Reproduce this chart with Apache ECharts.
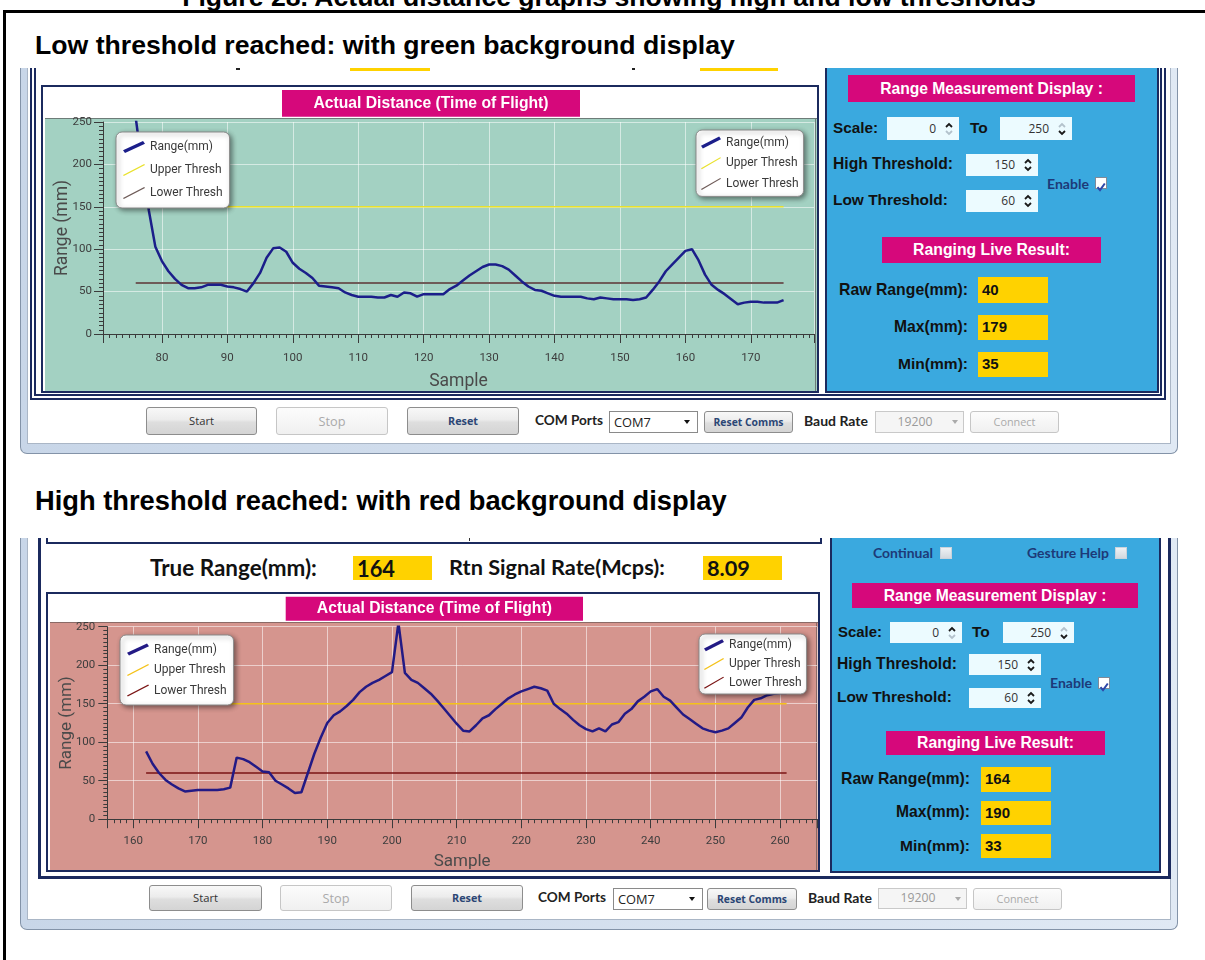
<!DOCTYPE html>
<html><head><meta charset="utf-8">
<script src="https://cdn.jsdelivr.net/npm/echarts@6/dist/echarts.min.js"></script>
<style>
html,body{margin:0;padding:0;background:#fff;width:1205px;height:960px;overflow:hidden;position:relative}
.a{position:absolute;box-sizing:border-box}
.t{position:absolute;white-space:nowrap;line-height:1}
</style></head><body>
<script>
// ---------------- DATA ----------------
const captionText = 'Figure 28. Actual distance graphs showing high and low thresholds';
const lowHeader = 'Low threshold reached: with green background display';
const highHeader = 'High threshold reached: with red background display';
const chartTitle = 'Actual Distance (Time of Flight)';
const seriesNames = ['Range(mm)', 'Upper Thresh', 'Lower Thresh'];
const xAxisName = 'Sample';
const yAxisName = 'Range (mm)';
const upperThreshold = 150;
const lowerThreshold = 60;
const yMin = 0, yMax = 250, yStep = 50;

// Low threshold capture (green): samples 76..175
const lowSampleStart = 76;
const lowRange = [255,197,146,103,86,74,65,58,54,54,
                  55,58,58,58,56,55,53,50,60,72,
                  90,101,102,97,84,77,72,66,57,56,
                  55,54,49,46,44,44,44,43,43,46,
                  44,49,48,44,47,47,47,47,53,57,
                  63,69,74,79,82,82,80,76,69,62,
                  56,52,51,48,45,44,44,44,44,42,
                  41,43,42,41,41,41,40,41,43,52,
                  62,74,82,90,98,100,87,70,58,52,
                  47,41,35,37,38,38,37,37,37,40];
const lowPanel = {scaleFrom:'0', scaleTo:'250', high:'150', low:'60', raw:'40', max:'179', min:'35'};

// High threshold capture (red): samples 162..261
const highSampleStart = 162;
const highRange = [88,72,60,51,45,40,36,37,38,38,
                   38,38,39,41,80,78,74,68,62,61,
                   50,45,40,34,35,60,85,106,125,135,
                   140,147,155,165,172,177,181,186,191,255,
                   190,181,177,170,163,154,144,134,124,115,
                   114,122,131,135,143,150,157,162,166,169,
                   172,170,167,150,143,137,129,122,117,114,
                   118,114,123,126,137,143,153,159,166,169,
                   159,154,145,136,130,124,118,115,113,115,
                   118,125,132,145,155,157,161,163,164,164];
const highPanel = {scaleFrom:'0', scaleTo:'250', high:'150', low:'60', raw:'164', max:'190', min:'33', trueRange:'164', signal:'8.09'};

// ---------------- HELPERS ----------------
const NAVY = '#1b2a5e', MAG = '#d6087b', BLUE = '#3aa9df', YEL = '#ffd200';
function box(x,y,w,h,st){const d=document.createElement('div');d.className='a';
  Object.assign(d.style,{left:x+'px',top:y+'px',width:w+'px',height:h+'px'},st||{});document.body.appendChild(d);return d;}
function text(str,x,cy,font,color,opt){opt=opt||{};const d=document.createElement('div');d.className='t';d.textContent=str;
  d.style.font=font;d.style.color=color;d.style.lineHeight='1';d.style.left='0px';d.style.top='0px';document.body.appendChild(d);
  if(opt.w){const r=d.getBoundingClientRect().width;const fs=parseFloat(getComputedStyle(d).fontSize);d.style.fontSize=(fs*opt.w/r)+'px';}
  const r=d.getBoundingClientRect();d.style.top=(cy-r.height/2)+'px';
  if(opt.right!=null)d.style.left=(opt.right-r.width)+'px';else if(opt.center!=null)d.style.left=(opt.center-r.width/2)+'px';else d.style.left=x+'px';
  if(opt.style)Object.assign(d.style,opt.style);return d;}
const ARIALB='bold 15.5px "Liberation Sans"';
function lbl(s,x,cy,w){return text(s,x,cy,ARIALB,'#111',{w:w});}
function lblR(s,right,cy,w){return text(s,0,cy,ARIALB,'#111',{w:w,right:right});}
function navyText(s,x,cy,w){return text(s,x,cy,'bold 14px Lato','#1d3a78',{w:w});}
function mag(x,y,w,h,s,tw){box(x,y,w,h,{background:MAG});text(s,0,y+h/2,'bold 15.5px "Liberation Sans"','#fff',{w:tw,center:x+w/2});}
function yel(x,y,w,h,s){box(x,y,w,h,{background:YEL});text(s,x+4,y+h/2-1,'bold 15px "Liberation Sans"','#111');}
function input(x,y,w,h,val,upFaint,downFaint){box(x,y,w,h,{background:'#ecfbff'});
  text(val,0,y+h/2,'12px "Open Sans"','#333',{right:x+w-23});
  const s=box(x+w-15,y+h/2-8,10,16,{});
  s.innerHTML='<svg width="10" height="16"><path d="M2,6 L5,3 L8,6" fill="none" stroke="'+(upFaint?'#b3c2cc':'#1a1a1a')+'" stroke-width="1.8"/><path d="M2,10 L5,13 L8,10" fill="none" stroke="'+(downFaint?'#b3c2cc':'#1a1a1a')+'" stroke-width="1.8"/></svg>';}
function cbox(x,y,checked){box(x,y,12,12,{border:'1px solid '+(checked?'#7f8a99':'#c9d3dc'),background:checked?'#fff':'linear-gradient(#eef1f4,#d3d9df)'});
  if(checked){const s=box(x+1,y+1,10,10,{});s.innerHTML='<svg width="10" height="10"><path d="M1.5,5.2 L4,8.2 L8.8,1.5" fill="none" stroke="#2d46a8" stroke-width="2"/></svg>';}}
function combo(x,y,w,h,val,dis){box(x,y,w,h,{border:'1px solid '+(dis?'#c9c9c9':'#8a8a8a'),background:dis?'#f5f5f5':'#fff'});
  if(dis)text(val,0,y+h/2,'12.5px "Open Sans"','#9a9a9a',{center:x+w*0.45,w:35});else text(val,x+5,y+h/2,'13px "Open Sans"','#222',{w:37});
  box(x+w-(dis?12:14),y+h/2-2,7,4,{borderLeft:'3.5px solid transparent',borderRight:'3.5px solid transparent',borderTop:'4px solid '+(dis?'#aaa':'#111'),height:'0px',width:'0px'});}
function btn(x,y,w,h,label,kind,tw){const dis=kind==='d';
  box(x,y,w,h,{border:'1px solid '+(dis?'#c6c6c6':'#8d8d8d'),borderRadius:'3px',background:dis?'linear-gradient(#fcfcfc,#f0f0f0)':'linear-gradient(#f8f8f8 0%,#ececec 45%,#dedede 55%,#d4d4d4 100%)'});
  const font=kind==='b'?'bold 12px "Open Sans"':kind==='b2'?'bold 11px "Open Sans"':'12px "Open Sans"';
  const color=dis?'#aaaaaa':(kind==='b'||kind==='b2')?'#2b4675':'#333';
  text(label,0,y+h/2,font,color,{center:x+w/2,w:tw});}

// ---------------- CHART ----------------
const ICON_THICK='path://M0,9.3 L20,0 L22,2.7 L2,12 Z';
const ICON_THIN='path://M0,11.1 L21.2,0 L22,0.9 L0.8,12 Z';
function buildChart(cfg){
  const dom=box(cfg.x,cfg.y,cfg.w,cfg.h,{});
  const ch=echarts.init(dom,null,{renderer:'canvas',width:cfg.w,height:cfg.h});
  const rangeData=cfg.values.map((v,i)=>[cfg.start+i,v]);
  const end=cfg.start+cfg.values.length-1;
  const ax='#3b3b3b';
  const split={show:true,lineStyle:{color:'rgba(255,255,255,0.55)',width:1}};
  const legendItems=[{name:seriesNames[0],icon:ICON_THICK},{name:seriesNames[1],icon:ICON_THIN},{name:seriesNames[2],icon:ICON_THIN}];
  const legends=cfg.legends.map(l=>({data:legendItems,orient:'vertical',left:l.left,top:l.top,itemWidth:l.iw,itemHeight:12,itemGap:l.gap,
    padding:l.pad,backgroundColor:'#fff',borderColor:'#8a8a8a',borderWidth:1,borderRadius:6,shadowBlur:5,shadowColor:'rgba(0,0,0,0.45)',
    shadowOffsetX:2,shadowOffsetY:2,selectedMode:false,symbolKeepAspect:false,itemStyle:{borderWidth:0},
    textStyle:{fontFamily:'Roboto',fontSize:12,color:'#3a3a3a',lineHeight:l.lh},z:10}));
  const t=cfg.title;
  ch.setOption({
    animation:false,
    backgroundColor:cfg.bgColor,
    graphic:{elements:[
      {type:'rect',shape:{x:0,y:0,width:cfg.w,height:cfg.bgTop},style:{fill:'#fff'},z:-1,silent:true},
      {type:'rect',shape:{x:0,y:0,width:2,height:cfg.h},style:{fill:'#fff'},z:-1,silent:true},
      {type:'line',shape:{x1:2,y1:cfg.bgTop+0.5,x2:cfg.w,y2:cfg.bgTop+0.5},style:{stroke:cfg.edge,lineWidth:1},z:-1,silent:true},
      {type:'line',shape:{x1:cfg.w-1.5,y1:cfg.bgTop,x2:cfg.w-1.5,y2:cfg.h},style:{stroke:cfg.edge,lineWidth:1},z:-1,silent:true},
      {type:'rect',shape:{x:t[0],y:t[1],width:t[2],height:t[3]},style:{fill:MAG},z:20,silent:true},
      {type:'text',x:t[0]+t[2]/2,y:t[1]+t[3]/2,style:{text:chartTitle,fill:'#fff',font:'bold 15.7px "Liberation Sans"',align:'center',verticalAlign:'middle'},z:21,silent:true}
    ]},
    grid:Object.assign({containLabel:false,outerBoundsMode:'none'},cfg.grid),
    legend:legends,
    xAxis:{type:'value',min:cfg.xMin,max:cfg.xMax,splitNumber:10,
      axisLine:{onZero:false,lineStyle:{color:ax,width:1}},
      axisTick:{show:true,length:9,lineStyle:{color:ax}},
      minorTick:{show:true,splitNumber:10,length:4,lineStyle:{color:ax}},
      splitLine:split,minorSplitLine:{show:false},
      axisLabel:{showMinLabel:false,showMaxLabel:false,margin:cfg.xLabelMargin,fontFamily:'Roboto',fontSize:11.5,color:'#3d3d3d'},
      name:xAxisName,nameLocation:'middle',nameGap:cfg.xNameGap,nameMoveOverlap:false,
      nameTextStyle:{fontFamily:'Roboto',fontSize:cfg.nameSize,color:'#4a4a4a'}},
    yAxis:{type:'value',min:yMin,max:yMax,interval:yStep,
      axisLine:{show:true,lineStyle:{color:ax,width:1}},
      axisTick:{show:true,length:9,lineStyle:{color:ax}},
      minorTick:{show:true,splitNumber:10,length:4,lineStyle:{color:ax}},
      splitLine:split,
      axisLabel:{margin:cfg.yLabelMargin,fontFamily:'Roboto',fontSize:11.5,color:'#3d3d3d'},
      name:yAxisName,nameLocation:'middle',nameGap:cfg.yNameGap,nameRotate:90,nameMoveOverlap:false,
      nameTextStyle:{fontFamily:'Roboto',fontSize:cfg.nameSize,color:'#4a4a4a'}},
    series:[
      {name:seriesNames[1],type:'line',data:[[cfg.start,upperThreshold],[end,upperThreshold]],symbol:'none',
        lineStyle:{width:1.5,color:cfg.upperColor},itemStyle:{color:cfg.upperColor},color:cfg.upperColor,z:2},
      {name:seriesNames[2],type:'line',data:[[cfg.start,lowerThreshold],[end,lowerThreshold]],symbol:'none',
        lineStyle:{width:cfg.lowerWidth,color:cfg.lowerColor},itemStyle:{color:cfg.lowerColor},color:cfg.lowerColor,z:2},
      {name:seriesNames[0],type:'line',data:rangeData,symbol:'none',showSymbol:false,clip:true,
        lineStyle:{width:2.5,color:cfg.rangeColor},itemStyle:{color:cfg.rangeColor},color:cfg.rangeColor,z:3}
    ]
  });
}

// ---------------- PAGE ----------------
box(3,10,1202,3,{background:'#000'});
box(3,10,3,950,{background:'#000'});
text(captionText,0,-3,'bold 22px "Liberation Sans"','#000',{w:854,center:609});
text(lowHeader,35,45,'bold 22px "Liberation Sans"','#000',{w:700});
text(highHeader,35,501,'bold 22px "Liberation Sans"','#000',{w:692});

// ======= TOP SCREENSHOT =======
box(20,68,1158,386,{background:'linear-gradient(90deg,#c8d6e8,#e0e9f4)',border:'1px solid #8393a8',borderTop:'none',borderRadius:'0 0 7px 7px'});
box(27,68,1144,376,{background:'#fff',border:'1px solid #aab6c6',borderTop:'none'});
box(30,68,1136,332,{border:'6px double '+NAVY,borderTop:'none'});
box(350,68,80,3,{background:YEL});box(700,68,78,3,{background:YEL});
box(236,68,4,2,{background:'#222'});box(632,68,3,2,{background:'#222'});
box(41,85,778,308,{border:'2px solid '+NAVY,background:'#fff'});
buildChart({x:43,y:87,w:774,h:304,start:lowSampleStart,values:lowRange,xMin:71,xMax:179.65,bgTop:31,bgColor:'#a3d1c2',edge:'#6d7c78',
  title:[239,3,298,26.7],grid:{left:60,top:35,right:3,height:212},xLabelMargin:18,xNameGap:39,yLabelMargin:11,yNameGap:31,nameSize:17.5,
  legends:[{left:73,top:45,iw:22,lh:14,gap:9,pad:[8,7,8,7]},{left:653,top:43,iw:20,lh:13,gap:7.7,pad:[6,5,6,5]}],
  rangeColor:'#1b1e8a',upperColor:'#e9e12c',lowerColor:'#6e5b58',lowerWidth:2});
box(825,68,334,325,{background:BLUE,border:'2px solid '+NAVY,borderTop:'none'});
mag(848,75,287,27,'Range Measurement Display :',223);
lbl('Scale:',833,128,45);
input(887,117,72,23,lowPanel.scaleFrom,false,true);
lbl('To',970,128);
input(1000,117,72,23,lowPanel.scaleTo,true,false);
lbl('High Threshold:',833,164,120);
input(966,154,72,22,lowPanel.high);
lbl('Low Threshold:',833,200,115);
input(966,190,72,22,lowPanel.low);
navyText('Enable',1047,184,42);
cbox(1095,177,true);
mag(882,237,219,26,'Ranging Live Result:',157);
lblR('Raw Range(mm):',968,290,129);yel(978,277,70,26,lowPanel.raw);
lblR('Max(mm):',968,327,74);yel(978,315,70,25,lowPanel.max);
lblR('Min(mm):',968,364,70);yel(978,352,70,25,lowPanel.min);
btn(146,407,111,28,'Start','n',25);btn(276,407,112,28,'Stop','d',27);btn(407,407,112,28,'Reset','b',30);
text('COM Ports',535,421,'bold 14px Lato','#222',{w:68});
combo(609,411,89,22,'COM7',false);
btn(704,411,89,22,'Reset Comms','b2',70);
text('Baud Rate',804,421,'bold 14px Lato','#222',{w:64});
combo(875,411,89,22,'19200',true);
btn(970,411,89,22,'Connect','d',42);

// ======= BOTTOM SCREENSHOT =======
box(20,538,1158,392,{background:'linear-gradient(90deg,#c8d6e8,#e0e9f4)',border:'1px solid #8393a8',borderTop:'none',borderRadius:'0 0 7px 7px'});
box(27,538,1144,382,{background:'#fff',border:'1px solid #aab6c6',borderTop:'none'});
box(38,538,1133,341,{border:'3px solid '+NAVY,borderTop:'none'});
box(46,538,776,6,{border:'2px solid '+NAVY,borderTop:'none'});
box(469,538,1,3,{background:'#333'});
text('True Range(mm):',150,568,'bold 20px Lato','#111',{w:167});
box(353,556,79,24,{background:YEL});text(highPanel.trueRange,357,569,'bold 22px Lato','#111',{w:38});
text('Rtn Signal Rate(Mcps):',449,568,'bold 20px Lato','#111',{w:216});
box(703,556,79,24,{background:YEL});text(highPanel.signal,707,569,'bold 22px Lato','#111',{w:43});
box(46,592,774,280,{border:'2px solid '+NAVY,background:'#fff'});
buildChart({x:48,y:594,w:770,h:276,start:highSampleStart,values:highRange,xMin:156,xMax:265.7,bgTop:28,bgColor:'#d5958e',edge:'#8a6a66',
  title:[237.7,2.7,297.3,24],grid:{left:59.3,top:32.7,right:1,height:192.5},xLabelMargin:16,xNameGap:34,yLabelMargin:12,yNameGap:32,nameSize:17,
  legends:[{left:72,top:41,iw:22,lh:13,gap:7.5,pad:[8,7,8,7]},{left:651,top:40,iw:20,lh:12,gap:6.7,pad:[5.3,5,5.3,5]}],
  rangeColor:'#231a85',upperColor:'#f4c21a',lowerColor:'#7a1414',lowerWidth:1.5});
box(830,538,331,335,{background:BLUE,border:'2px solid '+NAVY,borderTop:'none'});
navyText('Continual',873,553,60);cbox(940,547,false);
navyText('Gesture Help',1027,553,82);cbox(1115,547,false);
mag(852,583,286,25,'Range Measurement Display :',223);
lbl('Scale:',838,632,44);input(890,622,72,21,highPanel.scaleFrom,false,true);
lbl('To',972,632);input(1003,622,71,21,highPanel.scaleTo,true,false);
lbl('High Threshold:',837,664,120);input(969,654,72,21,highPanel.high);
lbl('Low Threshold:',837,697,115);input(969,688,72,20,highPanel.low);
navyText('Enable',1050,683,42);cbox(1098,677,true);
mag(886,731,219,24,'Ranging Live Result:',157);
lblR('Raw Range(mm):',970,779,129);yel(981,767,70,25,highPanel.raw);
lblR('Max(mm):',970,812,74);yel(981,801,70,24,highPanel.max);
lblR('Min(mm):',970,846,70);yel(981,834,70,24,highPanel.min);
btn(149,885,113,26,'Start','n',25);btn(280,885,112,26,'Stop','d',27);btn(411,885,112,26,'Reset','b',30);
text('COM Ports',538,898,'bold 14px Lato','#222',{w:68});
combo(613,888,90,22,'COM7',false);
btn(707,888,90,22,'Reset Comms','b2',70);
text('Baud Rate',808,898,'bold 14px Lato','#222',{w:64});
combo(878,888,89,21,'19200',true);
btn(973,888,89,22,'Connect','d',42);
</script>
</body></html>
